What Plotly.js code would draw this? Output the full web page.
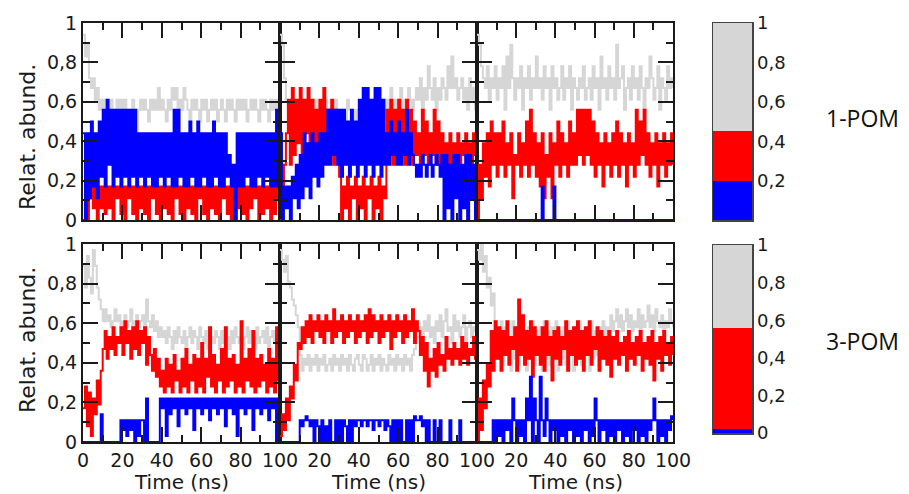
<!DOCTYPE html>
<html><head><meta charset="utf-8">
<script src="https://cdn.plot.ly/plotly-3.0.1.min.js"></script>
<style>html,body{margin:0;padding:0;background:#fff}#chart{width:909px;height:494px}</style>
</head><body><div id="chart"></div>
<script>
// ---------- DATA ----------
const timeNs = [0,1,2,3,4,5,6,7,8,9,10,11,12,13,14,15,16,17,18,19,20,21,22,23,24,25,26,27,28,29,30,31,32,33,34,35,36,37,38,39,40,41,42,43,44,45,46,47,48,49,50,51,52,53,54,55,56,57,58,59,60,61,62,63,64,65,66,67,68,69,70,71,72,73,74,75,76,77,78,79,80,81,82,83,84,85,86,87,88,89,90,91,92,93,94,95,96,97,98,99,100];
const xTickVals = [0,20,40,60,80,100];
const xMinorVals = [10,30,50,70,90];
const xTickTextFirst = ['0','20','40','60','80','100'];
const xTickTextOther = ['','20','40','60','80','100'];
const yTickVals = [0,0.2,0.4,0.6,0.8,1];
const yMinorVals = [0.1,0.3,0.5,0.7,0.9];
const yTickText = ['0','0,2','0,4','0,6','0,8','1'];
const rowNames = ['1-POM','3-POM'];

// 1-POM, left
const p1Grey = [0.94,0.83,0.89,0.72,0.67,0.72,0.61,0.67,0.56,0.61,
0.56,0.61,0.5,0.56,0.61,0.56,0.5,0.61,0.56,0.61,
0.56,0.61,0.56,0.5,0.56,0.61,0.56,0.44,0.56,0.61,
0.56,0.61,0.56,0.5,0.61,0.56,0.61,0.56,0.67,0.56,
0.61,0.56,0.5,0.61,0.56,0.67,0.61,0.67,0.56,0.61,
0.56,0.67,0.61,0.56,0.5,0.61,0.56,0.61,0.56,0.5,
0.61,0.56,0.61,0.5,0.56,0.61,0.56,0.61,0.5,0.56,
0.61,0.56,0.5,0.61,0.56,0.61,0.56,0.5,0.61,0.56,
0.61,0.56,0.61,0.5,0.56,0.61,0.56,0.61,0.56,0.5,
0.61,0.56,0.61,0.56,0.5,0.61,0.56,0.61,0.56,0.61,0.56];
const p1Red = [0.0,0.06,0.0,0.11,0.17,0.06,0.17,0.0,0.17,0.06,
0.17,0.03,0.17,0.06,0.17,0.0,0.17,0.11,0.17,0.03,
0.17,0.0,0.17,0.11,0.17,0.03,0.17,0.0,0.17,0.06,
0.17,0.03,0.17,0.0,0.17,0.11,0.17,0.03,0.17,0.0,
0.17,0.06,0.17,0.03,0.17,0.0,0.17,0.11,0.17,0.03,
0.17,0.0,0.17,0.06,0.17,0.03,0.17,0.0,0.17,0.11,
0.17,0.03,0.17,0.0,0.17,0.06,0.17,0.03,0.17,0.0,
0.17,0.11,0.17,0.03,0.17,0.0,0.17,0.0,0.17,0.06,
0.17,0.03,0.17,0.0,0.17,0.06,0.17,0.11,0.17,0.0,
0.17,0.03,0.17,0.06,0.17,0.0,0.17,0.03,0.17,0.11,0.17];
const p1Blue = [0.44,0.0,0.44,0.11,0.5,0.17,0.44,0.11,0.5,0.22,
0.56,0.17,0.61,0.28,0.56,0.17,0.56,0.22,0.56,0.17,
0.56,0.22,0.56,0.17,0.56,0.22,0.56,0.17,0.44,0.22,
0.44,0.17,0.44,0.22,0.44,0.17,0.44,0.17,0.44,0.22,
0.44,0.17,0.44,0.22,0.44,0.17,0.56,0.17,0.56,0.22,
0.44,0.17,0.44,0.17,0.5,0.22,0.44,0.17,0.5,0.17,
0.44,0.22,0.44,0.17,0.44,0.17,0.5,0.22,0.44,0.17,
0.44,0.17,0.44,0.22,0.33,0.17,0.28,0.0,0.44,0.17,
0.44,0.17,0.44,0.22,0.44,0.17,0.44,0.17,0.44,0.22,
0.44,0.17,0.44,0.22,0.44,0.17,0.44,0.17,0.56,0.17,0.44];

// 1-POM, middle
const p2Grey = [0.94,0.89,0.72,0.61,0.56,0.5,0.56,0.61,0.5,0.56,
0.56,0.5,0.61,0.56,0.5,0.56,0.61,0.56,0.61,0.5,
0.56,0.5,0.56,0.61,0.5,0.56,0.5,0.56,0.61,0.5,
0.56,0.5,0.56,0.5,0.61,0.56,0.5,0.56,0.5,0.56,
0.5,0.56,0.61,0.5,0.56,0.5,0.56,0.61,0.56,0.5,
0.56,0.61,0.5,0.56,0.61,0.56,0.67,0.56,0.61,0.56,
0.61,0.67,0.56,0.61,0.56,0.67,0.61,0.56,0.61,0.67,
0.61,0.72,0.56,0.67,0.61,0.78,0.67,0.61,0.72,0.56,
0.67,0.61,0.72,0.67,0.61,0.78,0.67,0.83,0.67,0.72,
0.61,0.67,0.72,0.61,0.67,0.56,0.72,0.61,0.67,0.56,0.61];
const p2Red = [0.0,0.11,0.28,0.44,0.61,0.28,0.67,0.33,0.61,0.39,
0.67,0.28,0.61,0.44,0.67,0.33,0.61,0.28,0.56,0.39,
0.61,0.28,0.67,0.33,0.56,0.44,0.61,0.28,0.56,0.33,
0.22,0.0,0.17,0.06,0.22,0.0,0.17,0.11,0.22,0.0,
0.17,0.06,0.22,0.0,0.17,0.11,0.22,0.0,0.17,0.06,
0.22,0.0,0.17,0.11,0.56,0.33,0.61,0.28,0.56,0.33,
0.61,0.39,0.56,0.28,0.61,0.44,0.56,0.28,0.5,0.33,
0.44,0.28,0.56,0.33,0.5,0.28,0.44,0.33,0.56,0.28,
0.5,0.28,0.44,0.33,0.39,0.28,0.44,0.28,0.39,0.33,
0.44,0.28,0.39,0.33,0.44,0.28,0.39,0.28,0.44,0.33,0.39];
const p2Blue = [0.44,0.0,0.17,0.06,0.17,0.0,0.22,0.11,0.28,0.06,
0.33,0.11,0.44,0.17,0.39,0.11,0.44,0.22,0.39,0.17,
0.44,0.22,0.44,0.28,0.56,0.28,0.56,0.33,0.56,0.28,
0.56,0.22,0.56,0.28,0.5,0.22,0.56,0.28,0.5,0.22,
0.61,0.28,0.67,0.22,0.67,0.28,0.61,0.22,0.67,0.28,
0.67,0.22,0.61,0.28,0.44,0.28,0.5,0.33,0.44,0.28,
0.5,0.28,0.44,0.33,0.56,0.28,0.44,0.33,0.28,0.22,
0.28,0.22,0.33,0.28,0.22,0.28,0.33,0.22,0.28,0.33,
0.28,0.22,0.33,0.0,0.33,0.06,0.28,0.0,0.33,0.11,
0.33,0.0,0.28,0.06,0.33,0.0,0.33,0.11,0.28,0.0,0.33];

// 1-POM, right
const p3Grey = [0.94,0.89,0.78,0.72,0.67,0.78,0.61,0.72,0.67,0.78,
0.61,0.72,0.67,0.78,0.56,0.83,0.67,0.89,0.72,0.61,
0.72,0.67,0.78,0.56,0.72,0.67,0.78,0.61,0.72,0.67,
0.83,0.67,0.72,0.61,0.78,0.67,0.72,0.56,0.78,0.67,
0.72,0.61,0.67,0.78,0.61,0.72,0.67,0.78,0.56,0.72,
0.67,0.61,0.72,0.67,0.78,0.61,0.67,0.72,0.61,0.78,
0.67,0.72,0.56,0.83,0.67,0.72,0.61,0.78,0.67,0.72,
0.61,0.89,0.67,0.72,0.78,0.56,0.67,0.72,0.61,0.78,
0.67,0.72,0.61,0.78,0.67,0.56,0.72,0.67,0.83,0.72,
0.61,0.67,0.78,0.56,0.72,0.67,0.61,0.78,0.67,0.72,0.67];
const p3Red = [0.0,0.28,0.11,0.39,0.22,0.44,0.17,0.5,0.28,0.44,
0.22,0.44,0.28,0.5,0.22,0.39,0.28,0.44,0.11,0.33,
0.28,0.44,0.22,0.39,0.28,0.5,0.22,0.56,0.28,0.44,
0.22,0.39,0.17,0.44,0.11,0.33,0.22,0.44,0.11,0.39,
0.28,0.5,0.22,0.44,0.28,0.39,0.22,0.5,0.28,0.44,
0.28,0.56,0.33,0.56,0.28,0.56,0.33,0.56,0.28,0.5,
0.22,0.44,0.28,0.39,0.17,0.44,0.28,0.39,0.22,0.44,
0.28,0.5,0.22,0.44,0.28,0.39,0.17,0.44,0.28,0.39,
0.22,0.56,0.28,0.5,0.33,0.56,0.28,0.44,0.22,0.39,
0.28,0.44,0.17,0.39,0.28,0.44,0.22,0.39,0.28,0.44,0.28];
const p3Blue = [0,0,0,0,0,0,0,0,0,0,
0,0,0,0,0,0,0,0,0,0,
0,0,0,0,0,0,0,0,0,0,
0,0,0,0.17,0,0,0,0,0,0.17,
0,0,0,0,0,0,0,0,0,0,
0,0,0,0,0,0,0,0,0,0,
0,0,0,0,0,0,0,0,0,0,
0,0,0,0,0,0,0,0,0,0,
0,0,0,0,0,0,0,0,0,0,
0,0,0,0,0,0,0,0,0,0,0];

// 3-POM, left
const p4Grey = [0.89,0.78,0.94,0.83,0.75,0.97,0.89,0.78,0.72,0.67,
0.61,0.67,0.61,0.64,0.58,0.61,0.67,0.61,0.64,0.58,
0.61,0.64,0.58,0.61,0.67,0.58,0.61,0.64,0.58,0.61,
0.64,0.58,0.72,0.61,0.58,0.64,0.56,0.61,0.53,0.58,
0.53,0.56,0.5,0.58,0.53,0.47,0.56,0.5,0.58,0.53,
0.5,0.56,0.47,0.53,0.58,0.5,0.56,0.53,0.47,0.58,
0.53,0.5,0.56,0.47,0.58,0.53,0.5,0.56,0.53,0.47,
0.56,0.5,0.58,0.53,0.47,0.56,0.5,0.58,0.53,0.5,
0.56,0.47,0.53,0.58,0.5,0.56,0.53,0.47,0.58,0.5,
0.53,0.56,0.5,0.58,0.47,0.53,0.56,0.5,0.53,0.58,0.53];
const p4Red = [0.17,0.28,0.08,0.25,0.03,0.22,0.14,0.31,0.19,0.36,
0.47,0.56,0.42,0.53,0.47,0.58,0.44,0.53,0.5,0.58,
0.44,0.61,0.5,0.56,0.42,0.58,0.47,0.61,0.44,0.56,
0.5,0.58,0.39,0.53,0.44,0.36,0.47,0.33,0.42,0.28,
0.36,0.25,0.42,0.28,0.39,0.25,0.44,0.31,0.36,0.25,
0.42,0.28,0.47,0.25,0.39,0.31,0.44,0.25,0.42,0.28,
0.5,0.25,0.42,0.33,0.58,0.28,0.44,0.25,0.39,0.31,
0.47,0.25,0.58,0.28,0.42,0.31,0.44,0.25,0.39,0.28,
0.61,0.25,0.42,0.31,0.47,0.28,0.56,0.25,0.42,0.28,
0.44,0.31,0.39,0.25,0.47,0.28,0.42,0.25,0.58,0.31,0.39];
const p4Blue = [0,0,0,0,0,0,0,0,0,0.14,
0,0,0,0,0,0,0,0,0,0.11,
0.06,0.11,0.03,0.11,0.06,0.11,0.0,0.11,0.03,0.11,
0.11,0,0.22,0,0,0,0,0,0,0.22,
0.17,0.22,0.03,0.22,0.14,0.22,0.17,0.22,0.08,0.22,
0.17,0.22,0.14,0.22,0.17,0.22,0.06,0.22,0.17,0.22,
0.14,0.22,0.17,0.22,0.11,0.22,0.17,0.22,0.14,0.22,
0.17,0.22,0.08,0.22,0.17,0.22,0.14,0.22,0.03,0.22,
0.17,0.22,0.14,0.22,0.17,0.22,0.06,0.22,0.17,0.22,
0.14,0.22,0.17,0.22,0.11,0.22,0.17,0.22,0.0,0.22,0.22];

// 3-POM, middle
const p5Grey = [0.97,0.92,0.86,0.94,0.81,0.78,0.72,0.69,0.64,0.58,
0.44,0.36,0.42,0.39,0.44,0.36,0.42,0.39,0.44,0.36,
0.42,0.39,0.44,0.36,0.39,0.42,0.36,0.44,0.39,0.42,
0.36,0.44,0.39,0.42,0.36,0.44,0.39,0.36,0.42,0.44,
0.39,0.36,0.44,0.42,0.36,0.39,0.44,0.36,0.42,0.39,
0.44,0.36,0.42,0.39,0.36,0.44,0.39,0.42,0.36,0.44,
0.39,0.42,0.36,0.44,0.39,0.42,0.36,0.44,0.47,0.53,
0.53,0.58,0.5,0.61,0.56,0.64,0.53,0.58,0.5,0.61,
0.56,0.64,0.53,0.61,0.67,0.56,0.58,0.5,0.64,0.56,
0.61,0.53,0.58,0.64,0.5,0.58,0.61,0.53,0.58,0.56,0.58];
const p5Red = [0.03,0.14,0.06,0.22,0.11,0.28,0.22,0.39,0.31,0.5,
0.47,0.58,0.5,0.61,0.53,0.64,0.5,0.61,0.56,0.64,
0.53,0.61,0.5,0.64,0.56,0.61,0.5,0.67,0.53,0.61,
0.56,0.64,0.5,0.61,0.53,0.64,0.56,0.61,0.5,0.64,
0.53,0.61,0.56,0.64,0.5,0.67,0.53,0.64,0.56,0.61,
0.5,0.64,0.53,0.61,0.56,0.64,0.47,0.61,0.53,0.64,
0.56,0.61,0.5,0.64,0.53,0.61,0.56,0.67,0.5,0.61,
0.56,0.44,0.53,0.36,0.5,0.28,0.42,0.36,0.47,0.33,
0.5,0.39,0.44,0.36,0.53,0.42,0.47,0.39,0.5,0.42,
0.47,0.39,0.53,0.42,0.5,0.39,0.47,0.44,0.53,0.42,0.47];
const p5Blue = [0,0,0,0,0,0,0,0,0,0,
0.11,0.08,0.11,0.13,0.11,0.08,0.11,0,0.11,0.08,
0,0.11,0,0.08,0,0.11,0,0,0.11,0,
0.11,0,0.11,0.08,0,0.11,0,0.11,0.08,0.11,
0.11,0.08,0.11,0.11,0.08,0.11,0.11,0.06,0.11,0.11,
0.08,0.11,0.11,0.06,0.11,0.08,0,0.11,0,0.11,
0,0.11,0,0,0.11,0,0.11,0,0.13,0.11,
0.11,0.13,0.08,0.11,0,0.11,0,0,0.11,0,
0,0.11,0,0,0,0,0.11,0,0,0,
0,0.11,0,0,0,0,0,0,0,0,0];

// 3-POM, right
const p6Grey = [0.97,0.92,1.0,0.86,0.94,0.78,0.83,0.69,0.75,0.61,
0.56,0.42,0.61,0.39,0.58,0.44,0.53,0.36,0.61,0.42,
0.58,0.39,0.61,0.44,0.56,0.36,0.58,0.42,0.61,0.39,
0.56,0.44,0.58,0.36,0.61,0.42,0.56,0.39,0.58,0.44,
0.61,0.36,0.56,0.42,0.58,0.39,0.61,0.44,0.56,0.36,
0.58,0.42,0.61,0.39,0.56,0.44,0.58,0.36,0.61,0.42,
0.56,0.44,0.58,0.42,0.61,0.47,0.58,0.53,0.64,0.56,
0.61,0.67,0.58,0.64,0.56,0.61,0.67,0.58,0.64,0.56,
0.61,0.58,0.67,0.56,0.64,0.58,0.61,0.69,0.58,0.64,
0.56,0.67,0.61,0.58,0.64,0.56,0.61,0.58,0.67,0.61,0.58];
const p6Red = [0.0,0.22,0.06,0.31,0.17,0.39,0.28,0.56,0.36,0.61,
0.42,0.58,0.36,0.56,0.44,0.61,0.39,0.53,0.47,0.58,
0.36,0.72,0.44,0.64,0.39,0.56,0.42,0.61,0.33,0.58,
0.44,0.53,0.39,0.58,0.36,0.61,0.44,0.53,0.31,0.56,
0.42,0.58,0.39,0.53,0.47,0.61,0.36,0.56,0.44,0.58,
0.39,0.61,0.42,0.56,0.36,0.58,0.44,0.61,0.39,0.53,
0.47,0.58,0.36,0.56,0.42,0.53,0.39,0.56,0.33,0.53,
0.42,0.56,0.39,0.5,0.44,0.53,0.36,0.56,0.42,0.5,
0.39,0.53,0.44,0.56,0.36,0.5,0.42,0.53,0.39,0.56,
0.31,0.5,0.42,0.53,0.36,0.56,0.44,0.5,0.39,0.53,0.44];
const p6Blue = [0,0,0,0,0,0,0,0,0.11,0,
0.11,0.03,0.11,0,0.11,0.06,0.11,0,0.22,0.11,
0,0.11,0.03,0.11,0,0.22,0.11,0.33,0,0.22,
0.11,0,0.33,0.11,0.03,0.22,0.11,0,0.11,0.06,
0.11,0,0.11,0.03,0.11,0,0.11,0.06,0.11,0,
0.11,0.03,0.11,0,0.11,0.06,0.11,0,0.11,0.03,
0.22,0.11,0,0.11,0.06,0.11,0,0.11,0.03,0.11,
0,0.11,0.06,0.11,0,0.11,0.03,0.11,0,0.11,
0.06,0.11,0,0.11,0.03,0.11,0,0.11,0.06,0.11,
0.22,0.11,0,0.11,0.03,0.11,0,0.11,0.06,0.13,0.11];

// colour-scale boxes (average shares): [1-POM, 3-POM]
const legendBlue = [0.2, 0.02];
const legendRed  = [0.25, 0.54];
const legendGrey = [0.55, 0.44];
const legendTickVals = [[0.2,0.4,0.6,0.8,1],[0,0.2,0.4,0.6,0.8,1]];
const legendTickText = [['0,2','0,4','0,6','0,8','1'],['0','0,2','0,4','0,6','0,8','1']];

// ---------- STYLE / LAYOUT ----------
const W = 909, H = 494;
const fx = p => p / W;
const fy = p => 1 - p / H;
const GREY = '#d6d6d6', RED = '#ff0000', BLUE = '#0000ff', INK = '#1a1a1a';
const colPx = [[83,280],[280,477],[477,673]];
const rowPx = [[23,220],[244,442]];
const panels = [
  [p1Grey,p1Red,p1Blue],[p2Grey,p2Red,p2Blue],[p3Grey,p3Red,p3Blue],
  [p4Grey,p4Red,p4Blue],[p5Grey,p5Red,p5Blue],[p6Grey,p6Red,p6Blue]
];
const colors = [GREY, RED, BLUE];
const tickFont = {family:'DejaVu Sans', size:19, color:INK};

const data = [];
const layout = {
  width: W, height: H, margin: {l:0,r:0,t:0,b:0},
  paper_bgcolor:'#fff', plot_bgcolor:'rgba(0,0,0,0)',
  showlegend:false, barmode:'stack', annotations: []
};

panels.forEach((series, i) => {
  const suf = i === 0 ? '' : String(i + 1);
  const row = Math.floor(i / 3), col = i % 3;
  series.forEach((ys, k) => {
    data.push({type:'scatter', mode:'lines', x: timeNs, y: ys,
      xaxis:'x'+suf, yaxis:'y'+suf, hoverinfo:'skip',
      line:{shape:'hv', width:2, color:colors[k]}});
  });
  const common = {showgrid:false, zeroline:false, showline:true, linewidth:2, linecolor:INK,
    mirror:'allticks', ticks:'inside', ticklen:15, tickwidth:2, tickcolor:INK,
    tickfont: tickFont, fixedrange:true};
  layout['xaxis'+suf] = Object.assign({}, common, {
    domain:[fx(colPx[col][0]), fx(colPx[col][1])], anchor:'y'+suf,
    range:[0,100], tickmode:'array', tickvals:xTickVals,
    ticktext: col === 0 ? xTickTextFirst : xTickTextOther,
    showticklabels: row === 1,
    minor:{tickmode:'array', tickvals:xMinorVals, ticks:'inside', ticklen:7, tickwidth:2, tickcolor:INK}
  });
  layout['yaxis'+suf] = Object.assign({}, common, {
    domain:[fy(rowPx[row][1]), fy(rowPx[row][0])], anchor:'x'+suf,
    range:[0,1], tickmode:'array', tickvals:yTickVals, ticktext:yTickText,
    showticklabels: col === 0,
    minor:{tickmode:'array', tickvals:yMinorVals, ticks:'inside', ticklen:7, tickwidth:2, tickcolor:INK}
  });
});

// colour-scale boxes
const boxPx = [[23,220],[245,433]];
[0,1].forEach(j => {
  const xa = 'x' + (7 + j), ya = 'y' + (7 + j);
  [[legendBlue,BLUE],[legendRed,RED],[legendGrey,GREY]].forEach(([arr,c]) => {
    data.push({type:'bar', x:[0], y:[arr[j]], width:[1], xaxis:xa, yaxis:ya,
      marker:{color:c, line:{width:0}}, hoverinfo:'skip'});
  });
  layout['xaxis' + (7 + j)] = {domain:[fx(713), fx(752)], anchor:ya, range:[-0.5,0.5],
    showticklabels:false, ticks:'', showgrid:false, zeroline:false,
    showline:true, mirror:true, linewidth:1.5, linecolor:'#444', fixedrange:true};
  layout['yaxis' + (7 + j)] = {domain:[fy(boxPx[j][1]), fy(boxPx[j][0])], anchor:xa, range:[0,1],
    side:'right', tickmode:'array', tickvals:legendTickVals[j], ticktext:legendTickText[j],
    ticks:'', showgrid:false, zeroline:false, showline:true, mirror:true, linewidth:1.5,
    linecolor:'#444', tickfont:{family:'DejaVu Sans', size:18, color:INK}, fixedrange:true};
});

// titles
const ann = layout.annotations;
[137, 340].forEach(cy => ann.push({xref:'paper', yref:'paper', x:fx(27), y:fy(cy),
  text:'Relat. abund.', textangle:-90, showarrow:false, xanchor:'center', yanchor:'middle',
  font:{family:'DejaVu Sans', size:22, color:INK}}));
colPx.forEach(c => ann.push({xref:'paper', yref:'paper', x:fx((c[0]+c[1])/2), y:fy(482),
  text:'Time (ns)', showarrow:false, xanchor:'center', yanchor:'middle',
  font:{family:'DejaVu Sans', size:20, color:INK}}));
[[118, rowNames[0]],[341, rowNames[1]]].forEach(([cy, t]) => ann.push({xref:'paper', yref:'paper',
  x:fx(862), y:fy(cy), text:t, showarrow:false, xanchor:'center', yanchor:'middle',
  font:{family:'Open Sans', size:23, color:'#111'}}));

Plotly.newPlot('chart', data, layout, {displayModeBar:false, staticPlot:true});
</script>
</body></html>
